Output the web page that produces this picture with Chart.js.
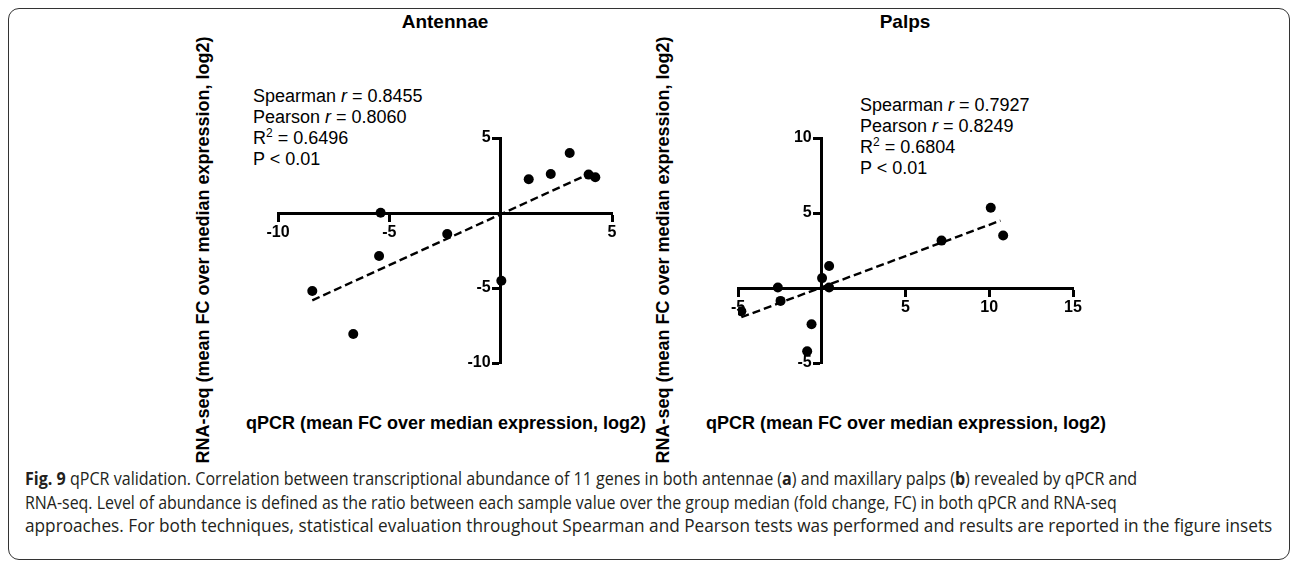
<!DOCTYPE html>
<html>
<head>
<meta charset="utf-8">
<script src="https://cdn.jsdelivr.net/npm/chart.js@4.4.1/dist/chart.umd.min.js"></script>
<style>
body { margin:0; width:1290px; height:563px; background:#fff; position:relative; overflow:hidden; font-family:"Liberation Sans", Arial, sans-serif; color:#000; }
.frame { position:absolute; left:8px; top:8px; width:1282px; height:552px; border:1.5px solid #333; border-radius:11px; box-sizing:border-box; }
canvas { position:absolute; }
.ttl { position:absolute; font-weight:bold; font-size:19px; line-height:22px; transform:translateX(-50%); white-space:nowrap; }
.stats { position:absolute; font-size:18px; line-height:21px; white-space:nowrap; }
.stats sup { font-size:12px; line-height:0; vertical-align:7px; }
.xt { position:absolute; font-weight:bold; font-size:18px; line-height:20px; white-space:nowrap; }
.yt { position:absolute; font-weight:bold; font-size:18px; line-height:20px; white-space:nowrap; transform:translate(-50%,-50%) rotate(-90deg); }
.cap { position:absolute; left:25px; font-family:"Open Sans", sans-serif; font-size:18px; line-height:22px; color:#231f20; white-space:nowrap; transform-origin:0 50%; }
</style>
</head>
<body>
<div class="frame"></div>

<div class="ttl" style="left:445px; top:11px;">Antennae</div>
<div class="ttl" style="left:905px; top:11px;">Palps</div>

<div class="stats" style="left:253px; top:86px;">Spearman <i>r</i> = 0.8455<br>Pearson <i>r</i> = 0.8060<br>R<sup>2</sup> = 0.6496<br>P &lt; 0.01</div>
<div class="stats" style="left:860px; top:95px;">Spearman <i>r</i> = 0.7927<br>Pearson <i>r</i> = 0.8249<br>R<sup>2</sup> = 0.6804<br>P &lt; 0.01</div>

<div class="yt" style="left:203px; top:250px;">RNA-seq (mean FC over median expression, log2)</div>
<div class="yt" style="left:663px; top:250px;">RNA-seq (mean FC over median expression, log2)</div>
<div class="xt" style="left:246px; top:413px;">qPCR (mean FC over median expression, log2)</div>
<div class="xt" style="left:706px; top:413px;">qPCR (mean FC over median expression, log2)</div>

<canvas id="ant" width="410" height="340" style="left:230px; top:60px;"></canvas>
<canvas id="pal" width="410" height="340" style="left:690px; top:60px;"></canvas>

<div class="cap" data-w="1112" style="top:467px;"><b>Fig. 9</b> qPCR validation. Correlation between transcriptional abundance of 11 genes in both antennae (<b>a</b>) and maxillary palps (<b>b</b>) revealed by qPCR and</div>
<div class="cap" data-w="1092" style="top:491px;">RNA-seq. Level of abundance is defined as the ratio between each sample value over the group median (fold change, FC) in both qPCR and RNA-seq</div>
<div class="cap" data-w="1247" style="top:514px;">approaches. For both techniques, statistical evaluation throughout Spearman and Pearson tests was performed and results are reported in the figure insets</div>

<script>
// antennae: qPCR (x) vs RNA-seq (y), log2 FC
const antX = [3.1, 2.25, 1.26, 3.95, 4.25, -5.39, -2.4, -5.46, 0.03, -8.46, -6.62]
const antY = [4.0, 2.6, 2.25, 2.56, 2.38, 0.02, -1.4, -2.87, -4.52, -5.2, -8.07]
const antFitX = [-8.46, 3.9]
const antFitY = [-5.82, 2.56]

// palps
const palX = [10.09, 10.83, 7.15, 0.44, 0.02, 0.44, -2.62, -2.46, -0.61, -0.87, -4.8]
const palY = [5.35, 3.5, 3.16, 1.47, 0.66, 0.03, 0.03, -0.86, -2.42, -4.22, -1.55]
const palFitX = [-4.8, 10.67]
const palFitY = [-1.95, 4.49]

// axis ranges / ticks
const antXRange = [-10, 5]
const antYRange = [-10, 5]
const palXRange = [-5, 15]
const palYRange = [-5, 10]
const tickStep = 5

const pts = (xs, ys) => xs.map((x, i) => ({x: x, y: ys[i]}))

const tickFont = {family: 'Liberation Sans', size: 16, weight: 'bold'}
const noZero = v => v === 0 ? '' : String(v)

function xAxis(range) {
    return {
        type: 'linear', min: range[0], max: range[1],
        position: {y: 0},
        afterFit: s => { s.height = 0 },
        ticks: {stepSize: tickStep, autoSkip: false, color: '#000', font: tickFont, padding: 3, callback: noZero},
        grid: {drawOnChartArea: false, drawTicks: true, tickLength: 7, tickWidth: 3, tickColor: '#000'},
        border: {display: true, color: '#000', width: 3}
    }
}

function yAxis(range) {
    // draws the axis line and tick marks at x = 0
    return {
        type: 'linear', min: range[0], max: range[1],
        position: {x: 0},
        afterFit: s => { s.width = 0 },
        ticks: {stepSize: tickStep, display: false},
        grid: {drawOnChartArea: false, drawTicks: true, tickLength: 7, tickWidth: 3, tickColor: '#000'},
        border: {display: true, color: '#000', width: 3}
    }
}

function yLabels(range, at) {
    // same scale, only the labels, set just left of the tick marks
    return {
        type: 'linear', min: range[0], max: range[1],
        position: {x: at},
        afterFit: s => { s.width = 0 },
        ticks: {stepSize: tickStep, autoSkip: false, color: '#000', font: tickFont, callback: noZero},
        grid: {display: false},
        border: {display: false}
    }
}

function makeChart(id, xs, ys, fx, fy, xr, yr, labelAt, pad) {
    const ctx = document.getElementById(id).getContext('2d')
    return new Chart(ctx, {
        type: 'scatter',
        data: {
            datasets: [{
                data: pts(xs, ys),
                pointRadius: 5,
                pointHoverRadius: 5,
                backgroundColor: '#000',
                borderWidth: 0
            }, {
                data: pts(fx, fy),
                showLine: true,
                pointRadius: 0,
                borderColor: '#000',
                borderWidth: 2.4,
                borderDash: [8, 4],
                fill: false
            }]
        },
        options: {
            responsive: false,
            animation: false,
            devicePixelRatio: 1,
            layout: {padding: pad},
            plugins: {legend: {display: false}, tooltip: {enabled: false}},
            scales: {
                x: xAxis(xr),
                y: yAxis(yr),
                yl: yLabels(yr, labelAt)
            }
        }
    })
}

document.fonts.ready.then(() => {
    makeChart('ant', antX, antY, antFitX, antFitY, antXRange, antYRange, -0.45, {left: 48, right: 28, top: 78, bottom: 37})
    makeChart('pal', palX, palY, palFitX, palFitY, palXRange, palYRange, -0.6, {left: 48, right: 27, top: 78, bottom: 37})

    document.querySelectorAll('.cap').forEach(el => {
        const k = Number(el.dataset.w) / el.scrollWidth
        el.style.transform = 'scaleX(' + k + ')'
    })
})
</script>
</body>
</html>
